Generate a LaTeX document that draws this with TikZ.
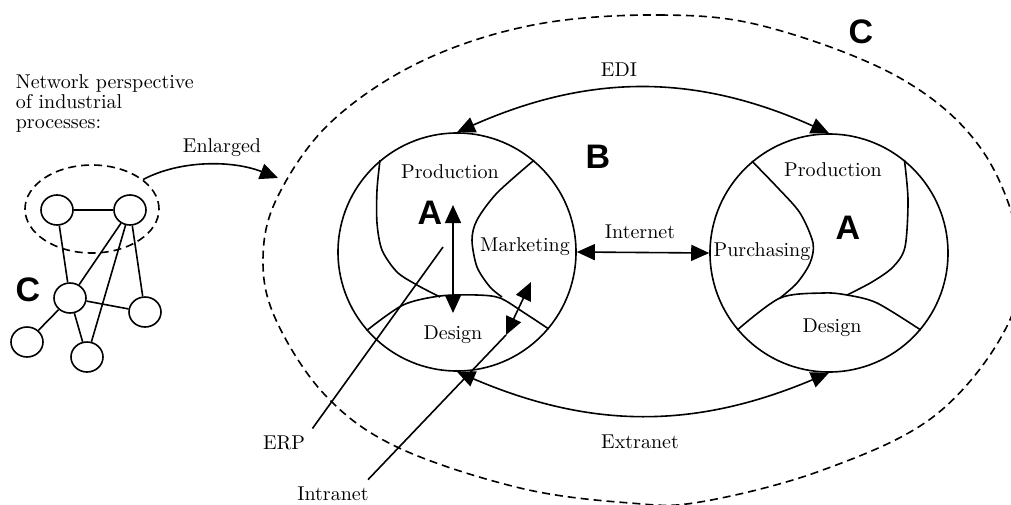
\documentclass[tikz,border=0pt]{standalone}
\usepackage{fontspec}
\setsansfont{Liberation Sans}
\usetikzlibrary{arrows.meta,shapes.geometric}
\newcommand{\lvl}[1]{{\fontsize{17}{17}\selectfont\sffamily\bfseries #1}}

\begin{document}
\begin{tikzpicture}[x=0.5pt,y=-0.5pt,line width=0.8pt]
\tikzstyle{unit}=[draw,circle,minimum size=119pt,inner sep=0pt]
\tikzstyle{firm}=[draw,ellipse,minimum width=16pt,minimum height=15pt,inner sep=0pt]
\tikzstyle{link}=[{Triangle[length=9pt,width=8pt]}-{Triangle[length=9pt,width=8pt]}]
\tikzstyle{dsh}=[dash pattern=on 4pt off 2.5pt]
\useasboundingbox (0,0) rectangle (1011,504);
\clip (0,0) rectangle (1011,504);

% network of firms
\node[anchor=north west,align=left,inner sep=0pt,font=\fontsize{10}{10}\selectfont] (net) at (15,74) {Network perspective\\of industrial\\processes:};
\node[firm] (n1) at (57,210) {};
\node[firm] (n2) at (130,210) {};
\node[firm] (n3) at (70,298) {};
\node[firm] (n4) at (145,312) {};
\node[firm] (n5) at (27,342) {};
\node[firm] (n6) at (87,357) {};
\draw (n1) -- (n2);
\draw (n1) -- (n3);
\draw (n2) -- (n3);
\draw (n2) -- (n6);
\draw (n2) -- (n4);
\draw (n3) -- (n4);
\draw (n3) -- (n5);
\draw (n3) -- (n6);
\node[draw,dsh,ellipse,minimum width=67pt,minimum height=44pt] (cl) at (92,209) {};
\node (cnet) at (28,290) {\lvl{C}};

% enlarged view
\draw[dsh] plot[smooth cycle,tension=0.6] coordinates {(533,25) (660,15) (767,27) (900,78) (982,150) (1020,250) (1005,330) (933,417) (820,471) (700,502) (630,503) (520,488) (397,447) (325,395) (276,320) (263,260) (277,198) (330,123) (420,62)};
\coordinate (ent) at (278,178);
\node (enl) at (222,148) {Enlarged};
\draw[-{Triangle[length=9pt,width=8pt]}] (cl.30) .. controls (180,160) and (232,160) .. (ent);
\node (cbig) at (861,32) {\lvl{C}};
\node (b) at (598,157) {\lvl{B}};

\node[unit] (L) at (457,252) {};
\node[unit] (R) at (829,253) {};

\draw plot[smooth] coordinates {(L.130) (377,190) (377,223) (382,250) (397,272) (417,285) (440,297)};
\draw plot[smooth] coordinates {(L.221) (403,305) (440,296) (477,295) (500,298) (523,312) (L.-40)};
\draw plot[smooth] coordinates {(L.50) (497,193) (477,220) (472,240) (477,267) (490,287) (502,297)};
\draw plot[smooth] coordinates {(R.130) (777,187) (800,213) (813,243) (810,263) (797,283) (780,298)};
\draw plot[smooth] coordinates {(R.220) (780,298) (823,293) (847,295) (877,303) (R.-40)};
\draw plot[smooth] coordinates {(R.51) (908,200) (905,247) (893,267) (872,282) (847,295)};

\node (prodL) at (450,172) {Production};
\node (mkt) at (525,247) {Marketing};
\node (desL) at (453,335) {Design};
\node (aL) at (430,213) {\lvl{A}};
\node (prodR) at (833,170) {Production};
\node (pur) at (762,252) {Purchasing};
\node (desR) at (832,328) {Design};
\node (aR) at (848,228) {\lvl{A}};

\node (edi) at (619,70) {EDI};
\node (inet) at (640,232) {Internet};
\node (extra) at (640,442) {Extranet};
\node (erp) at (284,443) {ERP};
\node (intra) at (333,494) {Intranet};

\draw[link] (L.north) to[bend left=24] (R.north);
\draw[link] (L.east) -- (R.west);
\draw[link] (L.south) to[bend right=23] (R.south);

\coordinate (va) at (453,205);
\coordinate (vb) at (453,313);
\draw[link] (va) -- (vb);
\coordinate (erpend) at (443,247);
\draw (erp.north east) -- (erpend);
\coordinate (ia) at (506,335);
\coordinate (ib) at (531,282);
\draw ([xshift=-4pt]intra.north east) -- (ia);
\draw[link] (ia) -- (ib);
\end{tikzpicture}
\end{document}
